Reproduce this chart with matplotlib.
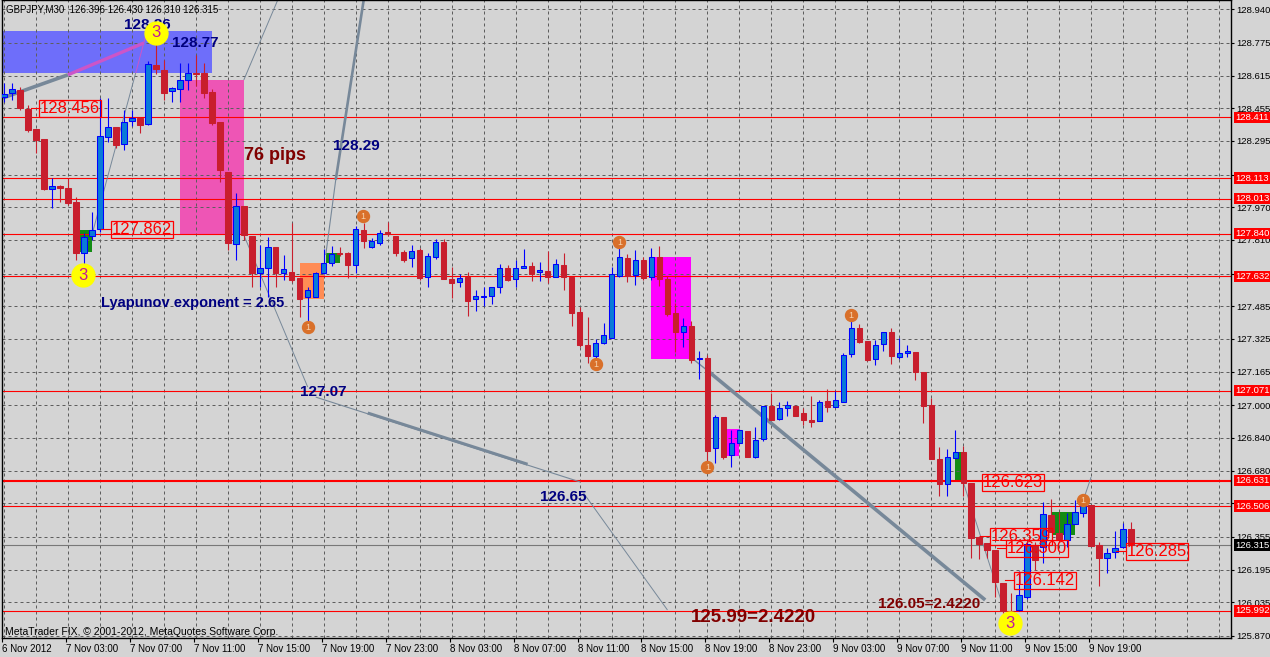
import matplotlib
matplotlib.use('Agg')
import matplotlib.pyplot as plt
from matplotlib.patches import Rectangle

plt.rcParams['font.family'] = ['Liberation Sans', 'DejaVu Sans']

# ---------------- data (GBPJPY M30) ----------------
opens = [128.511, 128.530, 128.545, 128.452, 128.354, 128.305, 128.060, 128.075, 128.065, 127.996,
         127.746, 127.830, 127.862, 128.315, 128.364, 128.280, 128.393, 128.408, 128.378, 128.668,
         128.643, 128.540, 128.550, 128.594, 128.628, 128.628, 128.535, 128.388, 128.143, 127.790,
         127.977, 127.830, 127.648, 127.673, 127.776, 127.648, 127.653, 127.624, 127.531, 127.531,
         127.648, 127.697, 127.746, 127.746, 127.688, 127.859, 127.776, 127.795, 127.849, 127.830,
         127.751, 127.722, 127.761, 127.629, 127.727, 127.800, 127.619, 127.604, 127.629, 127.521,
         127.531, 127.536, 127.580, 127.673, 127.619, 127.673, 127.683, 127.653, 127.658, 127.629,
         127.688, 127.629, 127.457, 127.296, 127.242, 127.305, 127.330, 127.634, 127.722, 127.638,
         127.712, 127.629, 127.727, 127.619, 127.452, 127.359, 127.389, 127.227, 127.232, 126.791,
         126.943, 126.757, 126.815, 126.874, 126.747, 126.835, 126.997, 126.933, 126.987, 126.997,
         126.962, 126.928, 126.923, 127.021, 126.992, 127.016, 127.251, 127.379, 127.315, 127.227,
         127.300, 127.359, 127.237, 127.256, 127.261, 127.163, 127.002, 126.737, 126.614, 126.742,
         126.771, 126.619, 126.355, 126.325, 126.291, 126.129, 125.992, 125.997, 126.061, 126.311,
         126.306, 126.463, 126.374, 126.340, 126.418, 126.472, 126.512, 126.316, 126.252, 126.281,
         126.306, 126.396]
highs = [128.579, 128.579, 128.560, 128.472, 128.354, 128.305, 128.114, 128.080, 128.114, 128.021,
         127.844, 127.947, 128.506, 128.506, 128.364, 128.447, 128.447, 128.413, 128.687, 128.860,
         128.692, 128.560, 128.677, 128.677, 128.716, 128.677, 128.550, 128.388, 128.143, 128.040,
         127.977, 127.830, 127.786, 127.825, 127.776, 127.737, 127.893, 127.624, 127.580, 127.653,
         127.766, 127.781, 127.776, 127.751, 127.879, 127.893, 127.820, 127.859, 127.898, 127.830,
         127.761, 127.786, 127.771, 127.746, 127.815, 127.815, 127.678, 127.643, 127.653, 127.565,
         127.580, 127.580, 127.692, 127.688, 127.712, 127.766, 127.702, 127.702, 127.756, 127.717,
         127.746, 127.629, 127.482, 127.433, 127.325, 127.403, 127.678, 127.795, 127.741, 127.761,
         127.727, 127.771, 127.781, 127.634, 127.501, 127.428, 127.413, 127.266, 127.247, 126.953,
         126.943, 126.879, 126.884, 126.874, 126.894, 126.997, 127.060, 127.016, 127.021, 127.002,
         126.987, 127.046, 127.026, 127.080, 127.070, 127.256, 127.443, 127.398, 127.315, 127.320,
         127.359, 127.379, 127.330, 127.295, 127.261, 127.163, 127.036, 126.796, 126.786, 126.879,
         126.801, 126.619, 126.360, 126.325, 126.291, 126.129, 126.080, 126.188, 126.330, 126.330,
         126.526, 126.541, 126.477, 126.472, 126.536, 126.536, 126.512, 126.330, 126.301, 126.384,
         126.423, 126.430]
lows = [128.486, 128.496, 128.447, 128.339, 128.236, 128.055, 127.967, 127.996, 127.981, 127.712,
        127.688, 127.810, 127.849, 128.290, 128.261, 128.251, 128.369, 128.334, 128.374, 128.623,
        128.496, 128.486, 128.486, 128.545, 128.565, 128.506, 128.374, 128.094, 127.761, 127.712,
        127.810, 127.580, 127.580, 127.531, 127.580, 127.614, 127.604, 127.433, 127.403, 127.531,
        127.643, 127.683, 127.732, 127.624, 127.648, 127.771, 127.771, 127.786, 127.830, 127.732,
        127.702, 127.678, 127.614, 127.580, 127.717, 127.619, 127.526, 127.580, 127.438, 127.462,
        127.487, 127.496, 127.550, 127.609, 127.580, 127.673, 127.609, 127.609, 127.599, 127.629,
        127.565, 127.389, 127.286, 127.207, 127.232, 127.300, 127.330, 127.629, 127.604, 127.589,
        127.614, 127.614, 127.585, 127.438, 127.261, 127.286, 127.207, 127.129, 126.717, 126.717,
        126.737, 126.698, 126.815, 126.747, 126.742, 126.825, 126.928, 126.928, 126.948, 126.948,
        126.904, 126.894, 126.923, 126.967, 126.992, 127.016, 127.237, 127.305, 127.217, 127.197,
        127.266, 127.202, 127.227, 127.237, 127.124, 126.913, 126.737, 126.556, 126.556, 126.742,
        126.556, 126.252, 126.247, 126.252, 126.061, 125.983, 125.983, 125.992, 126.051, 126.193,
        126.227, 126.379, 126.345, 126.306, 126.418, 126.453, 126.311, 126.115, 126.178, 126.252,
        126.301, 126.310]
closes = [128.525, 128.550, 128.457, 128.349, 128.300, 128.060, 128.075, 128.065, 127.991, 127.746,
          127.825, 127.859, 128.320, 128.364, 128.276, 128.388, 128.408, 128.374, 128.672, 128.648,
          128.530, 128.555, 128.594, 128.628, 128.623, 128.530, 128.383, 128.153, 127.795, 127.977,
          127.835, 127.648, 127.673, 127.776, 127.648, 127.668, 127.614, 127.521, 127.565, 127.648,
          127.697, 127.741, 127.741, 127.688, 127.864, 127.805, 127.805, 127.844, 127.839, 127.746,
          127.712, 127.756, 127.624, 127.732, 127.800, 127.619, 127.599, 127.624, 127.511, 127.536,
          127.536, 127.580, 127.673, 127.614, 127.673, 127.683, 127.643, 127.663, 127.629, 127.692,
          127.629, 127.452, 127.296, 127.242, 127.305, 127.345, 127.643, 127.727, 127.634, 127.712,
          127.624, 127.727, 127.619, 127.447, 127.359, 127.389, 127.222, 127.232, 126.776, 126.943,
          126.747, 126.815, 126.879, 126.747, 126.830, 126.997, 126.928, 126.987, 127.002, 126.948,
          126.928, 126.918, 127.016, 126.992, 127.026, 127.247, 127.379, 127.310, 127.222, 127.296,
          127.359, 127.242, 127.256, 127.266, 127.163, 126.997, 126.737, 126.614, 126.747, 126.771,
          126.619, 126.350, 126.320, 126.291, 126.134, 125.992, 125.987, 126.071, 126.320, 126.242,
          126.467, 126.379, 126.345, 126.418, 126.477, 126.507, 126.311, 126.252, 126.276, 126.301,
          126.394, 126.315]

symbol_header = "GBPJPY,M30  126.396 126.430 126.310 126.315"
footer_text = "MetaTrader FIX, \u00a9 2001-2012, MetaQuotes Software Corp."

price_ticks = [128.940, 128.775, 128.615, 128.455, 128.295, 128.130, 127.970, 127.810, 127.645, 127.485,
               127.325, 127.165, 127.000, 126.840, 126.680, 126.520, 126.355, 126.195, 126.035, 125.870]
time_tick_bars = [0, 8, 16, 24, 32, 40, 48, 56, 64, 72, 80, 88, 96, 104, 112, 120, 128, 136]
time_tick_labels = ["6 Nov 2012", "7 Nov 03:00", "7 Nov 07:00", "7 Nov 11:00", "7 Nov 15:00",
                    "7 Nov 19:00", "7 Nov 23:00", "8 Nov 03:00", "8 Nov 07:00", "8 Nov 11:00",
                    "8 Nov 15:00", "8 Nov 19:00", "8 Nov 23:00", "9 Nov 03:00", "9 Nov 07:00",
                    "9 Nov 11:00", "9 Nov 15:00", "9 Nov 19:00"]

level_lines = [128.411, 128.113, 128.013, 127.840, 127.632, 127.071, 126.631, 126.506, 125.992]
current_price = 126.315

# rectangles: (bar_from, bar_to, price_low, price_high, colour)
zones = [(-0.125, 26.0, 128.628, 128.834, '#6E6EFA'),
         (22.0, 30.0, 127.834, 128.594, '#EE55B5'),
         (81.0, 86.0, 127.227, 127.727, '#FF00FF'),
         (90.4, 92.0, 126.751, 126.884, '#FF00FF'),
         (37.0, 40.0, 127.521, 127.697, '#FF8C55'),
         (9.4, 11.0, 127.751, 127.859, '#148C14'),
         (40.25, 42.0, 127.697, 127.746, '#148C14'),
         (119.0, 120.0, 126.624, 126.771, '#148C14'),
         (131.1, 134.0, 126.364, 126.477, '#148C14')]

# trend lines: (bar0, price0, bar1, price1, width_pt, colour)
trend_lines = [(-0.125, 128.506, 8.0, 128.619, 2.6, '#778899'),
               (8.0, 128.619, 17.5, 128.775, 2.4, '#CC55C8'),
               (11.1, 127.849, 16.475, 128.628, 0.7, '#778899'),
               (16.475, 128.628, 17.75, 128.814, 0.7, '#CC55C8'),
               (34.25, 128.986, 30.0, 128.594, 0.7, '#778899'),
               (45.0, 128.986, 41.5, 128.104, 1.9, '#778899'),
               (41.5, 128.104, 40.25, 127.736, 0.8, '#778899'),
               (30.0, 127.834, 38.0, 127.089, 0.7, '#778899'),
               (39.0, 127.040, 72.1, 126.624, 0.8, '#778899'),
               (45.5, 126.962, 65.5, 126.711, 2.2, '#778899'),
               (72.5, 126.570, 83.0, 125.997, 0.7, '#778899'),
               (85.9, 127.236, 88.0, 127.170, 1.0, '#778899'),
               (88.0, 127.170, 122.75, 126.046, 2.6, '#778899'),
               (120.0, 126.624, 125.0, 126.011, 0.7, '#778899'),
               (134.9, 126.521, 136.0, 126.648, 0.7, '#778899')]

# price labels: (price, bar where connector starts, bar where box starts)
price_labels = [(128.456, 3.375, 4.375), (127.862, 12.125, 13.375), (126.623, 122.375, 122.375),
                (126.359, 122.125, 123.375), (126.300, 124.25, 125.375), (126.142, 125.25, 126.375),
                (126.285, 139.125, 140.375)]

# pattern markers
big_points = [(19.0, 128.824), (9.875, 127.638), (125.875, 125.933)]
small_points = [(44.875, 127.927), (38.0, 127.383), (77.0, 127.800), (74.0, 127.202),
                (88.0, 126.698), (106.0, 127.442), (135.0, 126.536)]

# annotation texts: (text, bar, price, size, colour)
notes = [("128.86", 15.0, 128.863, 11, '#000080'),
         ("128.77", 21.0, 128.775, 11, '#000080'),
         ("76 pips", 30.0, 128.222, 13, '#800000'),
         ("128.29", 41.125, 128.270, 11, '#000080'),
         ("Lyapunov exponent = 2.65", 12.125, 127.501, 10.5, '#000080'),
         ("127.07", 37.0, 127.065, 11, '#000080'),
         ("126.65", 67.0, 126.550, 11, '#000080'),
         ("125.99=2.4220", 85.875, 125.958, 13.5, '#800000'),
         ("126.05=2.4220", 109.375, 126.026, 11, '#800000')]

# ---------------- figure ----------------
W, H = 1270, 657
BG = '#D4D4D4'
fig = plt.figure(figsize=(W / 100, H / 100), dpi=100, facecolor=BG)
ax = fig.add_axes([2 / W, 19 / H, 1229 / W, 638 / H])
ax.set_facecolor(BG)
ax.set_xlim(-0.125, 153.5)
ax.set_ylim(125.8597, 128.9856)

# zones
for b0, b1, lo, hi, col in zones:
    ax.add_patch(Rectangle((b0, lo), b1 - b0, hi - lo, facecolor=col, edgecolor='none', zorder=1))

# grid
for t in price_ticks:
    ax.axhline(t, color='#5E5E5E', lw=0.72, dashes=(3, 3), zorder=1.5)
for b in range(0, 154, 4):
    ax.axvline(b, color='#5E5E5E', lw=0.72, dashes=(3, 3), zorder=1.5)

# level lines
for p in level_lines:
    ax.axhline(p, color='#FF0000', lw=1.5 if p == 126.631 else 0.8, zorder=2)
ax.axhline(current_price, color='#787878', lw=0.8, zorder=2)

# trend lines
for b0, p0, b1, p1, w, col in trend_lines:
    ax.plot([b0, b1], [p0, p1], color=col, lw=w, solid_capstyle='butt', zorder=2.5)

# candles
for i, (o, h, l, c) in enumerate(zip(opens, highs, lows, closes)):
    bull = c >= o
    wick = '#0000FF' if bull else '#C81E2D'
    fill = '#0A7BD8' if bull else '#C81E2D'
    ax.vlines(i, l, h, color=wick, lw=0.8, zorder=3)
    lo = min(o, c)
    hgt = max(abs(c - o), 0.004)
    ax.add_patch(Rectangle((i - 0.34, lo), 0.68, hgt, facecolor=fill,
                           edgecolor=wick, lw=0.75, zorder=4))

# price labels with connectors
for p, cb, bb in price_labels:
    if bb > cb:
        ax.plot([cb, bb], [p, p], color='#FF0000', lw=0.8, zorder=5)
    ax.text(bb + 0.1, p, f"{p:.3f}", fontsize=12, color='#FF0000', ha='left', va='center',
            zorder=6, bbox=dict(boxstyle='square,pad=0.06', fc='none', ec='#FF0000', lw=0.9))

# annotation texts
for txt, b, p, s, col in notes:
    ax.text(b, p, txt, fontsize=s, color=col, fontweight='bold', ha='left', va='center', zorder=6)

# markers
for b, p in big_points:
    ax.plot(b, p, 'o', ms=16.5, mfc='#FFFF00', mec='#FFFF00', zorder=7)
    ax.text(b, p, '3', fontsize=12, color='#C0189B', ha='center', va='center', zorder=8)
for b, p in small_points:
    ax.plot(b, p, 'o', ms=8.6, mfc='#D9702A', mec='#D9702A', zorder=7)
    ax.text(b, p - 0.002, '1', fontsize=6.5, color='#F7D3AE', ha='center', va='center', zorder=8)

# header / footer
ax.text(4 / 1229, 1 - 9 / 638, symbol_header, transform=ax.transAxes, fontsize=7,
        ha='left', va='center', color='black', zorder=9)
ax.text(3 / 1229, 6 / 638, footer_text, transform=ax.transAxes, fontsize=7.5,
        ha='left', va='center', color='black', zorder=9)

# axes
for s in ax.spines.values():
    s.set_color('black')
    s.set_linewidth(1.0)
ax.yaxis.tick_right()
ax.set_yticks(price_ticks)
ax.set_yticklabels([f"{t:.3f}" for t in price_ticks])
ax.tick_params(axis='y', length=2.5, width=0.8, pad=1.5, labelsize=6.8, colors='black')
ax.set_xticks([b - 0.25 for b in time_tick_bars])
ax.set_xticklabels(time_tick_labels)
ax.tick_params(axis='x', length=3, width=0.8, pad=1.5, labelsize=7, colors='black')
for lab in ax.get_xticklabels():
    lab.set_ha('left')

# right-axis price boxes
ytr = ax.get_yaxis_transform()
for p in level_lines:
    ax.text(1 + 4.5 / 1229, p, f"{p:.3f}", transform=ytr, fontsize=6.8, color='white',
            ha='left', va='center', clip_on=False, zorder=10,
            bbox=dict(boxstyle='square,pad=0.12', fc='#FF0000', ec='none'))
ax.text(1 + 4.5 / 1229, current_price, f"{current_price:.3f}", transform=ytr, fontsize=6.8,
        color='white', ha='left', va='center', clip_on=False, zorder=10,
        bbox=dict(boxstyle='square,pad=0.12', fc='black', ec='none'))

fig.savefig('out.png', dpi=100, facecolor=BG)
